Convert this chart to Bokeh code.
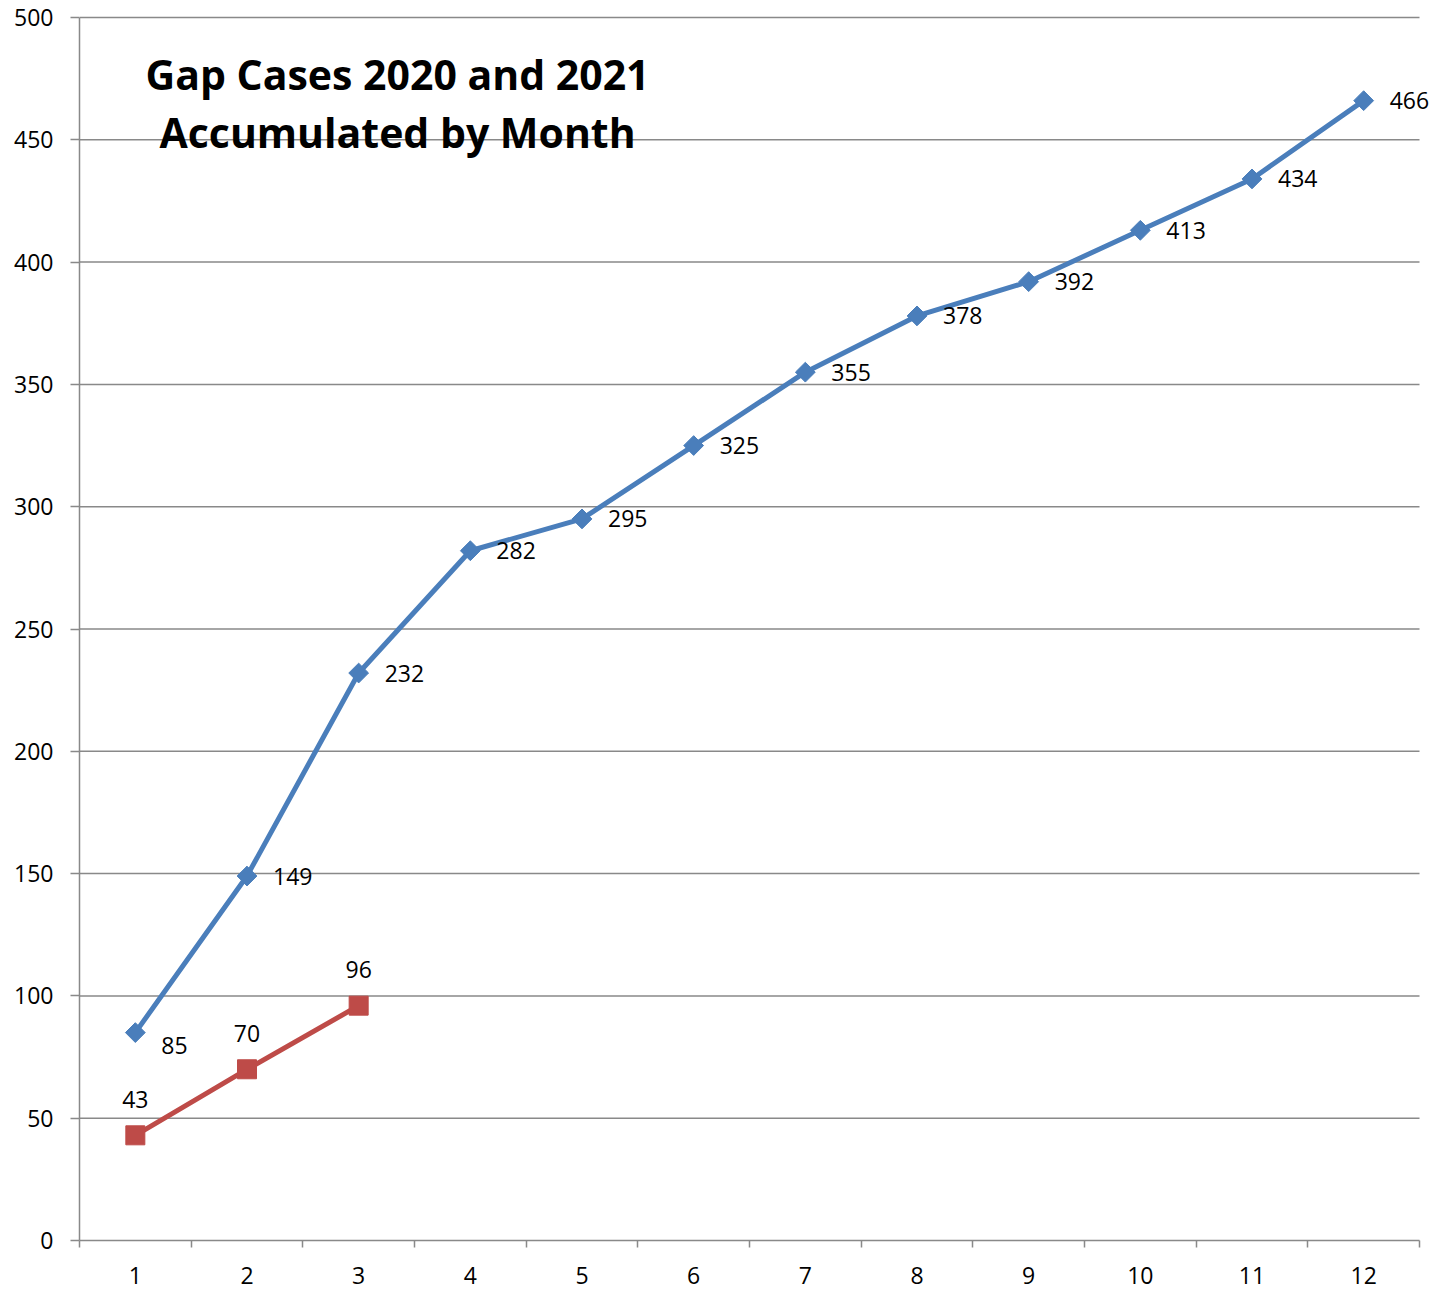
import numpy as np
from bokeh.plotting import figure
from bokeh.models import (ColumnDataSource, Range1d, FixedTicker, LabelSet, Label)
from bokeh.core.properties import value
from bokeh.embed import file_html
from bokeh.resources import INLINE

# ---- data ----
months = [1, 2, 3, 4, 5, 6, 7, 8, 9, 10, 11, 12]
cases_2020 = [85, 149, 232, 282, 295, 325, 355, 378, 392, 413, 434, 466]
months_2021 = [1, 2, 3]
cases_2021 = [43, 70, 96]
y_ticks = [0, 50, 100, 150, 200, 250, 300, 350, 400, 450, 500]
title_lines = ["Gap Cases 2020 and 2021", "Accumulated by Month"]

BLUE = "#4A7EBB"
RED = "#BE4B48"
GRID = "#898989"
FONT = "Open Sans"

W, H = 1430, 1291
LEFT, RIGHT_AXIS_END, TOP, BOTTOM = 79, 1419, 15, 1240
bin_px = (RIGHT_AXIS_END - LEFT) / 12.0
x_end = 12.5 + (W - RIGHT_AXIS_END) / bin_px
y_px = (BOTTOM - 17) / 500.0
y_end = 500 + (17 - TOP) / y_px

p = figure(width=W, height=H, output_backend="svg", toolbar_location=None,
           x_range=Range1d(0.5, x_end), y_range=Range1d(0, y_end),
           min_border_left=LEFT, min_border_right=0, min_border_top=TOP,
           min_border_bottom=H - BOTTOM)
p.outline_line_color = None
p.background_fill_color = "white"

# axes
p.xaxis.ticker = FixedTicker(ticks=months, minor_ticks=[m - 0.5 for m in months] + [12.5])
p.xaxis.bounds = (0.5, 12.5)
p.xaxis.major_tick_line_color = None
p.xaxis.major_tick_out = 0
p.xaxis.major_tick_in = 0
p.xaxis.minor_tick_out = 7
p.xaxis.minor_tick_in = 0
p.xaxis.minor_tick_line_color = GRID
p.xaxis.minor_tick_line_width = 1.5
p.xaxis.major_label_standoff = 19

p.yaxis.ticker = FixedTicker(ticks=y_ticks)
p.yaxis.bounds = (0, 500)
p.yaxis.major_tick_out = 9
p.yaxis.major_tick_in = 0
p.yaxis.minor_tick_line_color = None
p.yaxis.major_tick_line_color = GRID
p.yaxis.major_tick_line_width = 1.5
p.yaxis.major_label_standoff = 17

for ax in (p.xaxis, p.yaxis):
    ax.axis_line_color = GRID
    ax.axis_line_width = 1.5
    ax.major_label_text_font = FONT
    ax.major_label_text_font_size = "23px"
    ax.major_label_text_color = "#000000"

p.xgrid.grid_line_color = None
p.ygrid.grid_line_color = None

# horizontal gridlines spanning the category area only
grid_src = ColumnDataSource(dict(y=[t for t in y_ticks if t > 0]))
p.segment(x0=0.5, x1=12.5, y0="y", y1="y", source=grid_src,
          line_color=GRID, line_width=1.5)

# series
src20 = ColumnDataSource(dict(x=months, y=cases_2020, label=[str(v) for v in cases_2020],
                              yoff=[-13] + [0] * (len(months) - 1)))
src21 = ColumnDataSource(dict(x=months_2021, y=cases_2021, label=[str(v) for v in cases_2021]))

p.line("x", "y", source=src20, line_color=BLUE, line_width=5)
p.scatter("x", "y", source=src20, marker="square", size=14, angle=np.pi / 4,
          fill_color=BLUE, line_color=BLUE)

p.line("x", "y", source=src21, line_color=RED, line_width=5)
p.scatter("x", "y", source=src21, marker="square", size=19,
          fill_color=RED, line_color=RED)

lab20 = LabelSet(x="x", y="y", text="label", source=src20, x_offset=26, y_offset="yoff",
                 text_align="left", text_baseline="middle",
                 text_font=value(FONT), text_font_size="23px", text_color="#000000")
lab21 = LabelSet(x="x", y="y", text="label", source=src21, x_offset=0, y_offset=36,
                 text_align="center", text_baseline="middle",
                 text_font=value(FONT), text_font_size="23px", text_color="#000000")
p.add_layout(lab20)
p.add_layout(lab21)

# title inside the plot area
for txt, yy in zip(title_lines, [477.1, 453.0]):
    p.add_layout(Label(x=3.348, y=yy, text=txt, text_align="center", text_baseline="middle",
                       text_font=FONT, text_font_size="41px", text_font_style="bold",
                       text_color="#000000"))

open("out.html", "w").write(file_html(p, INLINE))
